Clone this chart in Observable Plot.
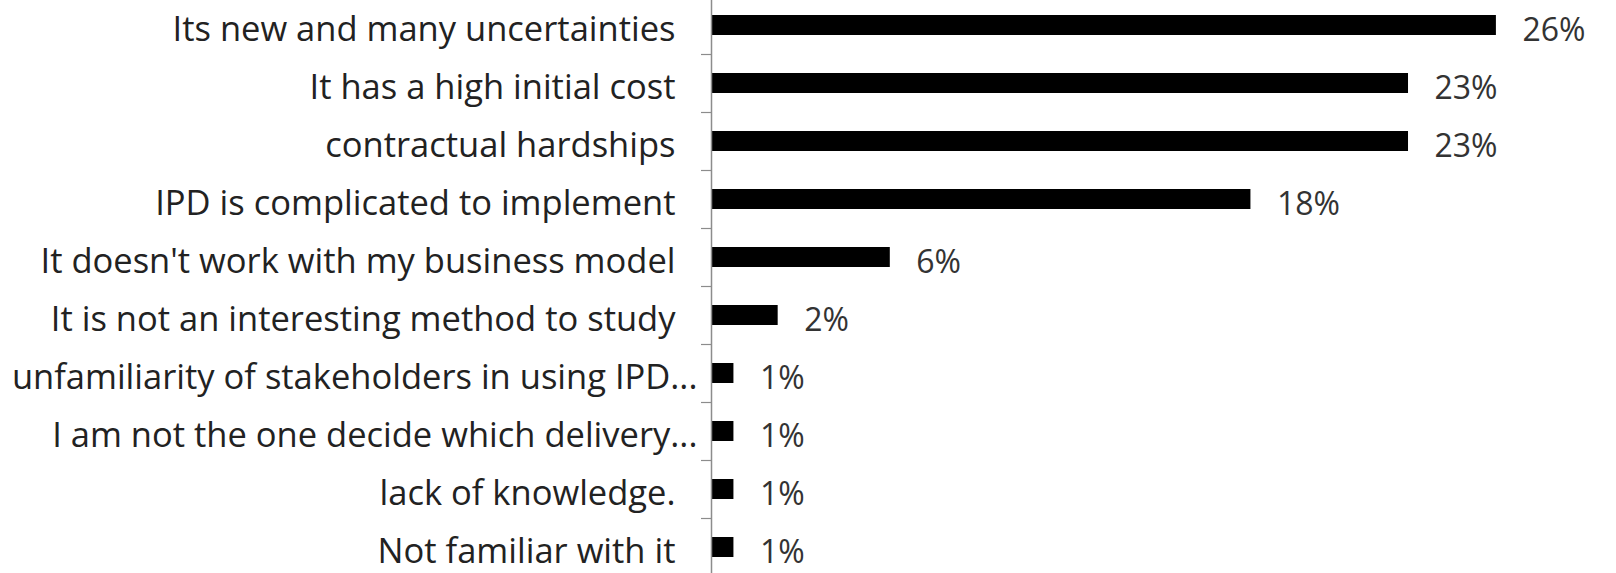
<!DOCTYPE html>
<html>
<head>
<meta charset="utf-8">
<script src="https://cdn.jsdelivr.net/npm/d3@7"></script>
<script src="https://cdn.jsdelivr.net/npm/@observablehq/plot@0.6"></script>
<style>
  html, body { margin: 0; padding: 0; background: #fff; }
  #chart svg { display: block; }
</style>
</head>
<body>
<div id="chart"></div>
<script>
const categories = [
  "Its new and many uncertainties",
  "It has a high initial cost",
  "contractual hardships",
  "IPD is complicated to implement",
  "It doesn't work with my business model",
  "It is not an interesting method to study",
  "unfamiliarity of stakeholders in using IPD...",
  "I am not the one decide which delivery...",
  "lack of knowledge.",
  "Not familiar with it"
];
const values = [25.9, 23.0, 23.0, 17.8, 5.9, 2.2, 0.74, 0.74, 0.74, 0.74];

const data = categories.map((c, i) => ({category: c, value: values[i], label: Math.round(values[i]) + "%"}));
const truncated = categories.filter(c => c.endsWith("..."));
const full = categories.filter(c => !c.endsWith("..."));

const font = "'Open Sans', 'DejaVu Sans', sans-serif";

const chart = Plot.plot({
  width: 1616,
  height: 573,
  marginLeft: 711,
  marginRight: 11,
  marginTop: -4,
  marginBottom: -3,
  style: {fontFamily: font, background: "#fff"},
  x: {domain: [0, 29.5], axis: null},
  y: {domain: categories, padding: 0, axis: null},
  marks: [
    Plot.barX(data, {x: "value", y: "category", fill: "#000", insetTop: 19, insetBottom: 19}),
    Plot.ruleX([0], {stroke: "#8c8c8c", strokeWidth: 1.5}),
    Plot.axisY({tickSize: 10, text: null, label: null, dy: -29, color: "#8c8c8c", strokeWidth: 1.2}),
    Plot.axisY({ticks: [categories[categories.length - 1]], tickSize: 10, text: null, label: null, dy: 29, color: "#8c8c8c", strokeWidth: 1.2}),
    Plot.axisY({ticks: full, tickSize: 0, tickPadding: 36, fontSize: 34.5, color: "#222", label: null, dy: 4, textOverflow: null}),
    Plot.axisY({ticks: truncated, tickSize: 0, tickPadding: 14, fontSize: 34.5, color: "#222", label: null, dy: 4, textOverflow: null}),
    Plot.text(data, {x: "value", y: "category", text: "label", textAnchor: "start", dx: 26, dy: 5, fontSize: 32, fill: "#333"})
  ]
});
document.getElementById("chart").appendChild(chart);
</script>
</body>
</html>
